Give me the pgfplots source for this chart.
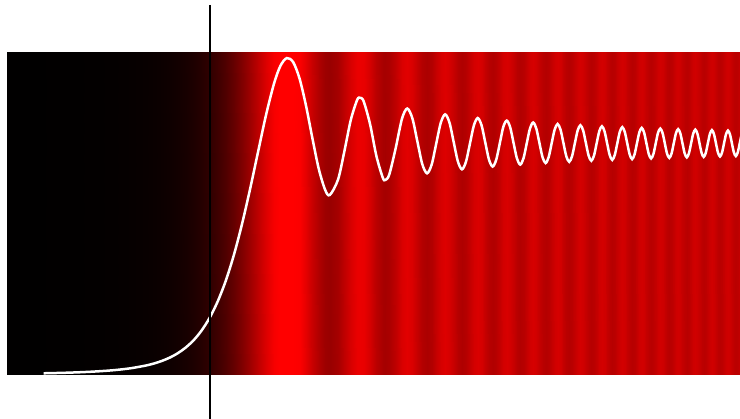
\documentclass[border=0pt]{standalone}
\usepackage{pgfplots}
\usepackage{pgfplotstable}
\pgfplotsset{compat=1.18}

\pgfplotstableread{
v I
-3.17 0.0050
-3.0 0.0056
-2.6 0.0075
-2.5 0.0080
-2.25 0.0098
-2.0 0.0123
-1.75 0.0159
-1.5 0.0210
-1.25 0.0288
-1.0 0.0411
-0.875 0.0498
-0.75 0.0611
-0.625 0.0757
-0.5 0.0948
-0.375 0.1197
-0.25 0.152
-0.125 0.1948
0 0.25
0.125 0.3208
0.25 0.410
0.375 0.5204
0.5 0.652
0.625 0.802
0.75 0.963
0.875 1.1228
1.0 1.259
1.1 1.3358
1.2 1.3696
1.3 1.3519
1.4 1.2803
1.5 1.164
1.6 1.0231
1.7 0.890
1.8 0.7995
1.872 0.778
2.0 0.844
2.1 0.9671
2.2 1.1023
2.3 1.1892
2.345 1.198
2.4 1.1834
2.5 1.085
2.6 0.9463
2.7 0.8523
2.74 0.843
2.8 0.8654
2.9 0.9786
3.0 1.108
3.0822 1.1514
3.1623 1.1090
3.2404 1.0090
3.3166 0.9114
3.3912 0.8717
3.4641 0.9099
3.5355 1.0008
3.6056 1.0897
3.6742 1.1263
3.7417 1.0906
3.8079 1.0061
3.8730 0.9229
3.9370 0.8889
4.0 0.9220
4.0620 1.0009
4.1231 1.0787
4.1833 1.1105
4.2426 1.0792
4.3012 1.0045
4.3589 0.9309
4.4159 0.9007
4.4721 0.9302
4.5277 1.0009
4.5826 1.0719
4.6368 1.0995
4.6904 1.0702
4.7434 1.0023
4.7958 0.9358
4.8477 0.9093
4.8990 0.9371
4.9497 1.0021
5.0 1.0657
5.0498 1.0911
5.0990 1.0644
5.1478 1.0019
5.1962 0.9406
5.2440 0.9160
5.2915 0.9417
5.3385 1.0018
5.3852 1.0609
5.4314 1.0846
5.4772 1.0598
5.5227 1.0017
5.5678 0.9445
5.6125 0.9214
5.6569 0.9453
5.7009 1.0016
5.7446 1.0569
5.7879 1.0793
5.8310 1.0561
5.8737 1.0015
5.9161 0.9477
5.9582 0.9259
6.0 0.9484
6.0415 1.0014
6.0828 1.0537
6.1237 1.0749
6.1644 1.0530
6.2048 1.0013
6.2450 0.9503
6.2849 0.9297
6.3246 0.9509
6.3640 1.0012
6.4031 1.0510
6.4420 1.0711
6.4807 1.0503
6.5192 1.0012
6.5574 0.9526
6.5955 0.9329
6.6332 0.9532
6.6708 1.0011
6.7082 1.0486
6.7454 1.0679
6.7823 1.0480
6.8191 1.0011
6.8557 0.9546
6.8920 0.9357
6.9282 0.9551
6.9642 1.0010
7.0 1.0465
7.0356 1.0650
7.0711 1.0460
7.1063 1.0010
7.1414 0.9564
7.1764 0.9382
7.2111 0.9568
7.2457 1.0010
7.2801 1.0447
7.3144 1.0625
7.3485 1.0443
7.3824 1.0009
7.4162 0.9580
7.4498 0.9405
7.4833 0.9584
7.5166 1.0009
7.5498 1.0431
7.5829 1.0603
7.6158 1.0427
7.6485 1.0009
7.6811 0.9594
7.7136 0.9425
7.7460 0.9597
7.7782 1.0008
7.8102 1.0416
7.8422 1.0582
7.8740 1.0412
7.9057 1.0008
7.9373 0.9607
7.9687 0.9443
8.0 0.9610
8.0312 1.0008
8.0623 1.0403
8.0932 1.0564
8.1240 1.0400
8.1548 1.0008
8.1854 0.9619
8.2158 0.9460
8.2462 0.9622
8.2765 1.0007
8.3066 1.0391
8.3367 1.0547
}\fresnel

\pgfplotstablevertcat{\bg}{\fresnel}
\pgfplotstablevertcat{\bg}{\fresnel}
\pgfplotstablegetrowsof{\fresnel}
\let\nrows=\pgfplotsretval

\begin{document}
\begin{tikzpicture}
\begin{axis}[
  scale only axis,
  width=370pt, height=209pt,
  xmin=-3.281, xmax=8.281,
  ymin=-0.1858, ymax=1.6206,
  hide axis,
  clip=true,
  colormap={fresnelmap}{rgb255(0cm)=(0,0,0); rgb255(1cm)=(255,0,0)},
  point meta min=0, point meta max=1.3,
]
\path (rel axis cs:0,0) (rel axis cs:1,1);
\addplot[surf, shader=interp, mesh/rows=2, point meta=explicit]
  table[x=v, y expr={\coordindex<\nrows ? 0.004 : 1.398}, meta=I] {\bg};
\addplot[white, line width=1.25pt, smooth, restrict x to domain=-2.61:9]
  table[x=v, y=I] {\fresnel};
\addplot[black, line width=1pt] coordinates {(0,1.599) (0,-0.19)};
\end{axis}
\end{tikzpicture}
\end{document}
